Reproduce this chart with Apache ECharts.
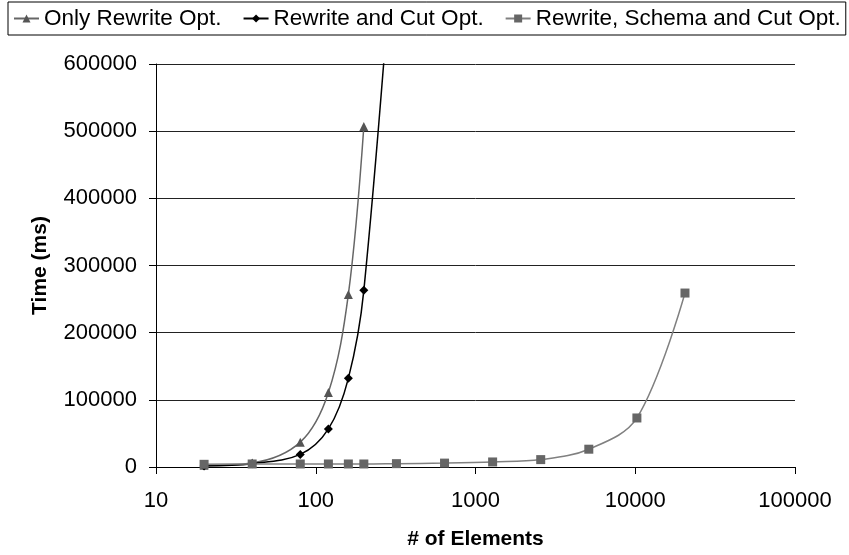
<!DOCTYPE html>
<html>
<head>
<meta charset="utf-8">
<script src="https://cdn.jsdelivr.net/npm/echarts@6/dist/echarts.min.js"></script>
<style>
html,body{margin:0;padding:0;background:#fff;}
#chart{width:849px;height:555px;}
</style>
</head>
<body>
<div id="chart"></div>
<script>
// Data
const elements = [20, 40, 80, 120, 160, 200, 320, 640, 1280, 2560, 5120, 10240, 20480];
const onlyRewrite = [2500, 6000, 37000, 111000, 257000, 507000];
const rewriteCut = [1500, 5000, 18700, 56700, 132000, 263000, 850000];
const rewriteSchemaCut = [4000, 4500, 4500, 4500, 4500, 4500, 5000, 5800, 7500, 11000, 26500, 73000, 259000];
const seriesNames = ['Only Rewrite Opt.', 'Rewrite and Cut Opt.', 'Rewrite, Schema and Cut Opt.'];
const xTicks = [10, 100, 1000, 10000, 100000];
const yTicks = [0, 100000, 200000, 300000, 400000, 500000, 600000];

function pairs(vals) { return vals.map((v, i) => [elements[i], v]); }

const FONT = '"Liberation Sans", Arial, sans-serif';
const chart = echarts.init(document.getElementById('chart'), null, {renderer: 'canvas'});
const SMOOTH = 0.35;
chart.setOption({
  animation: false,
  backgroundColor: '#fff',
  legend: {
    left: 8, top: 2,
    padding: [5, 5, 5, 5],
    borderColor: '#000', borderWidth: 1, borderRadius: 0,
    itemWidth: 25, itemHeight: 10, itemGap: 21,
    textStyle: {fontFamily: FONT, fontSize: 22.5, color: '#000'},
    data: seriesNames
  },
  grid: {left: 156, right: 54, top: 64, bottom: 86, containLabel: false},
  xAxis: {
    type: 'log', logBase: 10,
    min: xTicks[0], max: xTicks[xTicks.length - 1],
    name: '# of Elements', nameLocation: 'middle', nameGap: 62,
    nameTextStyle: {fontFamily: FONT, fontSize: 21, fontWeight: 'bold', color: '#000'},
    axisLine: {lineStyle: {color: '#000', width: 1}},
    axisTick: {show: true, length: 7, lineStyle: {color: '#000'}},
    minorTick: {show: false},
    splitLine: {show: false},
    axisLabel: {fontFamily: FONT, fontSize: 22, color: '#000', margin: 23,
      formatter: v => String(Math.round(v))}
  },
  yAxis: {
    type: 'value', min: yTicks[0], max: yTicks[yTicks.length - 1], interval: 100000,
    name: 'Time (ms)', nameLocation: 'middle', nameGap: 105, nameRotate: 90,
    nameTextStyle: {fontFamily: FONT, fontSize: 21, fontWeight: 'bold', color: '#000'},
    axisLine: {show: true, lineStyle: {color: '#000', width: 1}},
    axisTick: {show: true, length: 7, lineStyle: {color: '#000'}},
    splitLine: {show: true, lineStyle: {color: '#222', width: 1}},
    axisLabel: {fontFamily: FONT, fontSize: 22, color: '#000', margin: 19,
      formatter: v => String(v)}
  },
  series: [
    {
      name: seriesNames[0], type: 'line', smooth: SMOOTH, clip: true,
      data: pairs(onlyRewrite),
      symbol: 'triangle', symbolSize: 9,
      itemStyle: {color: '#555'},
      lineStyle: {color: '#666', width: 1.5}
    },
    {
      name: seriesNames[1], type: 'line', smooth: SMOOTH, clip: true,
      data: pairs(rewriteCut),
      symbol: 'diamond', symbolSize: 9,
      itemStyle: {color: '#000'},
      lineStyle: {color: '#000', width: 1.5}
    },
    {
      name: seriesNames[2], type: 'line', smooth: SMOOTH, clip: true,
      data: pairs(rewriteSchemaCut),
      symbol: 'rect', symbolSize: 9,
      itemStyle: {color: '#666'},
      lineStyle: {color: '#808080', width: 1.5}
    }
  ]
});
</script>
</body>
</html>
